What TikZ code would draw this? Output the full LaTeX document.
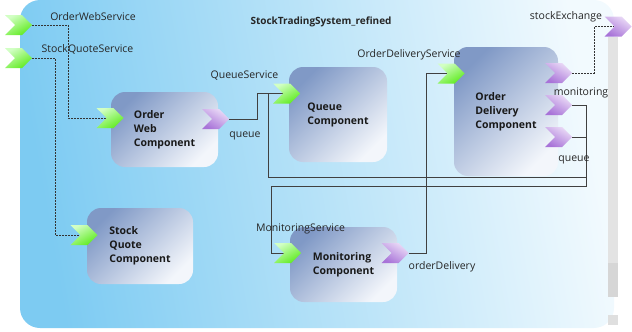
\documentclass[tikz,border=0pt]{standalone}
\usepackage{fontspec}
\setmainfont{Open Sans}
\usetikzlibrary{shapes.symbols}
\definecolor{bgL}{HTML}{7DCBF2}
\definecolor{bgR}{HTML}{F2FAFE}
\definecolor{boxA}{HTML}{8099C6}
\definecolor{boxB}{HTML}{F3F6FB}
\definecolor{grnA}{HTML}{5EEB1E}
\definecolor{grnB}{HTML}{D2FFC4}
\definecolor{purA}{HTML}{A873D8}
\definecolor{purB}{HTML}{EBDCF7}
\pgfdeclarelayer{bg}
\pgfdeclarelayer{wires}
\pgfsetlayers{bg,wires,main}
\begin{document}
\begin{tikzpicture}[x=1pt,y=-1pt,
  lbl/.style={font=\fontsize{10.5}{12}\selectfont, text=black!85, inner sep=0pt},
  comp/.style={rounded corners=14pt, top color=boxA, bottom color=boxB, shading angle=45, draw=none,
     font=\fontsize{10.5}{14}\selectfont\bfseries, align=left, text=black!90},
  chev/.style={signal, signal to=east, signal from=west, minimum width=27pt, minimum height=20pt, inner sep=0pt, draw=none},
  pin/.style={chev, top color=grnB, bottom color=grnA, shading angle=30},
  pout/.style={chev, top color=purB, bottom color=purA, shading angle=-30},
  wire/.style={draw=black!75, line width=0.8pt},
  dwire/.style={draw=black!80, line width=0.9pt, dash pattern=on 2pt off 1pt}]
\useasboundingbox (0,0) rectangle (632,332);
\begin{pgfonlayer}{bg}
% container
\path[rounded corners=20pt, left color=bgL, right color=bgR, shading angle=100] (20,0) rectangle (614,328);
% scrollbar
\path[fill=gray!22] (608,37) rectangle (618,297);
\path[fill=gray!32] (608,263) rectangle (618,297);
\path[fill=gray!25] (608,315) rectangle (618,325);
\end{pgfonlayer}
\node[lbl, font=\fontsize{10}{12}\selectfont\bfseries] (title) at (321,22) {StockTradingSystem\_refined};
% components
\node[comp, minimum width=107pt, minimum height=75pt] (owc) at (164.5,129.5) {Order\\Web\\Component};
\node[comp, minimum width=98pt, minimum height=95pt] (qc) at (338,114.5) {Queue\\Component};
\node[comp, minimum width=104pt, minimum height=129pt] (odc) at (506,111.5) {Order\\Delivery\\Component};
\node[comp, minimum width=106pt, minimum height=76pt] (sqc) at (140,246) {Stock\\Quote\\Component};
\node[comp, minimum width=107pt, minimum height=75pt] (mc) at (343.5,264.5) {Monitoring\\Component};
% ports
\node[pin] (pows) at (18.5,25) {};
\node[pin] (psqs) at (18.5,58) {};
\node[pout] (pse) at (618,26.5) {};
\node[pin] (owcin) at (110,118) {};
\node[pout] (owcout) at (215.5,119) {};
\node[pin] (qcin) at (286.5,93.5) {};
\node[pin] (sqcin) at (84,235) {};
\node[pin] (mcin) at (287.5,253) {};
\node[pout] (mcout) at (395,253) {};
\node[pin] (odcin) at (451,73.5) {};
\node[pout] (odcse) at (558.5,73) {};
\node[pout] (odcm) at (558.5,105) {};
\node[pout] (odcq) at (558.5,137) {};
% bend coordinates
\coordinate (qjoin) at (268,94);
\coordinate (qbus) at (268,177);
\coordinate (mbus) at (271,186);
% connectors
\begin{pgfonlayer}{wires}
\draw[dwire] (pows.east) -- ++(36,0) |- (owcin.west);
\draw[dwire] (psqs.east) -- ++(23,0) |- (sqcin.west);
\draw[wire] (owcout.east) -- ++(28,0) |- (qcin.west);
\draw[wire] (odcq.east) -- ++(14,0) |- (qbus) -- (qjoin);
\draw[wire] (odcm.east) -- ++(14,0) |- (mbus) |- (mcin.west);
\draw[wire] (mcout.east) -- ++(18,0) |- (odcin.west);
\draw[dwire] (odcse.east) -- ++(22,0) |- (pse.west);
\end{pgfonlayer}
% labels
\node[lbl] (lows) at (93,17) {OrderWebService};
\node[lbl] (lsqs) at (87.5,49) {StockQuoteService};
\node[lbl] (lqs) at (244.5,76) {QueueService};
\node[lbl] (lqueue1) at (245,136) {queue};
\node[lbl] (lods) at (409,55) {OrderDeliveryService};
\node[lbl] (lse) at (566,17) {stockExchange};
\node[lbl] (lmon) at (581,93) {monitoring};
\node[lbl] (lqueue2) at (574,160) {queue};
\node[lbl] (lms) at (300.5,229) {MonitoringService};
\node[lbl] (lod) at (442,267) {orderDelivery};
\end{tikzpicture}
\end{document}
